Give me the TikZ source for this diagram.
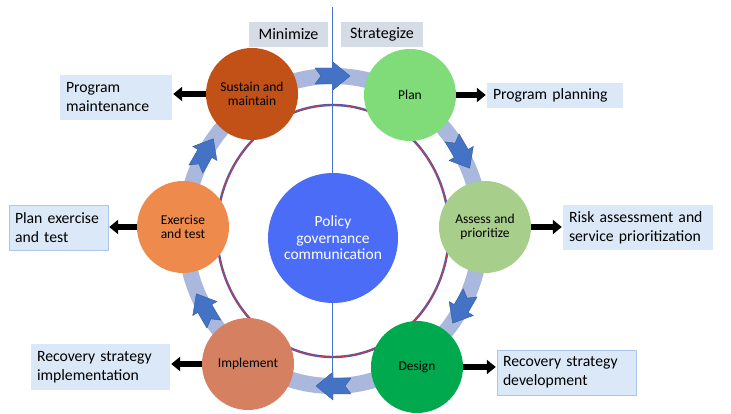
\documentclass[tikz,border=0pt]{standalone}
\usepackage{fontspec}
\setmainfont{Carlito}
\usetikzlibrary{arrows.meta}

\definecolor{bandblue}{RGB}{169,184,220}
\definecolor{flowblue}{RGB}{68,114,196}
\definecolor{boxblue}{RGB}{218,232,247}
\definecolor{boxedge}{RGB}{170,198,232}
\definecolor{tagblue}{RGB}{214,220,229}
\definecolor{ringred}{RGB}{200,60,80}
\definecolor{ringblue}{RGB}{70,90,170}
\definecolor{sustaincol}{RGB}{193,81,22}
\definecolor{plancol}{RGB}{128,219,121}
\definecolor{assesscol}{RGB}{167,206,138}
\definecolor{designcol}{RGB}{0,168,78}
\definecolor{implementcol}{RGB}{213,128,96}
\definecolor{exercisecol}{RGB}{238,138,76}
\definecolor{policycol}{RGB}{74,108,246}

\tikzset{
    stage/.style={circle, minimum size=92pt, inner sep=0pt, align=center,
        font=\fontsize{13.5}{14.5}\selectfont},
    outcome/.style={fill=boxblue, inner xsep=6pt, inner ysep=0pt, align=left,
        font=\fontsize{15.7}{19}\selectfont},
    phase/.style={fill=tagblue, minimum height=25pt, inner xsep=0pt,
        font=\fontsize{16}{18}\selectfont},
    outarrow/.style={-{Triangle[length=9pt,width=14pt]}, line width=6pt, shorten >=1pt},
}

\begin{document}
\begin{tikzpicture}[x=1pt, y=1pt]
        \useasboundingbox (0,0) rectangle (731,414);
        % rings behind the stages
        \draw[bandblue, line width=16pt] (333,183) ellipse (148 and 155);
        \draw[ringblue, line width=2.4pt] (333,183) ellipse (116 and 126);
        \draw[ringred, line width=1pt] (333,183) ellipse (116 and 126);
        \foreach \t in {90,30,-30,-90,-150,150}
            \filldraw[fill=flowblue, draw=flowblue!80!black, line width=0.4pt,
                shift={(333,183)}, shift={(\t:148 and 155)}, rotate=\t-90]
                (-18,-8) -- (0,-8) -- (0,-14) -- (17,0) -- (0,14) -- (0,8)
                -- (-18,8) -- (-12,0) -- cycle;
        \coordinate (divtop) at (332,407);
        \coordinate (divbot) at (332,24);
        \draw[flowblue, line width=0.8pt] (divtop) -- (divbot);
        % stages
        \node[stage, fill=sustaincol] (sustain) at (252,320) {Sustain and\\maintain};
        \node[stage, fill=plancol] (plan) at (410,319) {Plan};
        \node[stage, fill=assesscol] (assess) at (485,187) {Assess and\\prioritize};
        \node[stage, fill=designcol] (design) at (417,47) {Design};
        \node[stage, fill=implementcol] (implement) at (248,50) {Implement};
        \node[stage, fill=exercisecol] (exercise) at (183,187) {Exercise\\and test};
        \node[stage, fill=policycol, minimum size=130pt, text=white,
            font=\fontsize{15.5}{16.5}\selectfont] (policy) at (333,176)
            {Policy\\governance\\communication};
        % phases
        \node[phase, minimum width=79pt] (minimize) at (288.5,379.5) {Minimize};
        \node[phase, minimum width=82pt] (strategize) at (382,379.5) {Strategize};
        % outcomes
        \node[outcome, text width=100pt, minimum height=45pt] (maint) at (116,316.5)
            {Program\\maintenance};
        \node[outcome, draw=boxedge, text width=87pt, minimum height=45pt] (planex)
            at (58.5,186.5) {Plan exercise\\and test};
        \node[outcome, text width=124pt, minimum height=25pt] (planning) at (555,318.5)
            {Program planning};
        \node[outcome, text width=138pt, minimum height=45pt] (risk) at (638,186.5)
            {Risk assessment and\\service prioritization};
        \node[outcome, text width=127pt, minimum height=46pt] (impl) at (100.5,47)
            {Recovery strategy\\implementation};
        \node[outcome, draw=boxedge, text width=127pt, minimum height=45pt] (devel)
            at (566.5,41.5) {Recovery strategy\\development};
        \draw[outarrow] (sustain.west) -- (sustain.west -| maint.east);
        \draw[outarrow] (plan.east) -- (plan.east -| planning.west);
        \draw[outarrow] (assess.east) -- (assess.east -| risk.west);
        \draw[outarrow] (design.east) -- (design.east -| devel.west);
        \draw[outarrow] (implement.west) -- (implement.west -| impl.east);
        \draw[outarrow] (exercise.west) -- (exercise.west -| planex.east);
    \end{tikzpicture}
\end{document}
